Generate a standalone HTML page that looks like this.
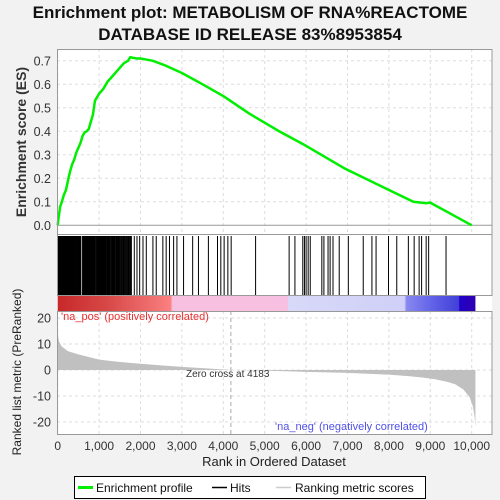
<!DOCTYPE html>
<html><head><meta charset="utf-8"><style>
body{margin:0;background:#f2f2f2;}
svg{display:block;font-family:"Liberation Sans",sans-serif;}
</style></head><body>
<svg id="chart" width="500" height="500" viewBox="0 0 500 500">
<text x="250" y="18" text-anchor="middle" font-size="17" font-weight="bold" fill="#111">Enrichment plot: METABOLISM OF RNA%REACTOME</text>
<text x="250" y="40" text-anchor="middle" font-size="17" font-weight="bold" fill="#111">DATABASE ID RELEASE 83%8953854</text>
<rect x="57" y="49" width="435" height="385" fill="#fff"/>
<g id="grid"></g>
<g id="metric"></g>
<g id="band"></g>
<g id="hits"></g>
<g id="es"></g>
<g id="axes"></g>
<text x="61" y="320" font-size="11" fill="#e83030">'na_pos' (positively correlated)</text>
<text x="275" y="430" font-size="11" fill="#5050e8">'na_neg' (negatively correlated)</text>
<text x="186" y="377" font-size="10" fill="#333">Zero cross at 4183</text>
<text x="0" y="0" transform="translate(26,142) rotate(-90)" text-anchor="middle" font-size="14" font-weight="bold" fill="#333">Enrichment score (ES)</text>
<text x="0" y="0" transform="translate(21,372) rotate(-90)" text-anchor="middle" font-size="12" fill="#222">Ranked list metric (PreRanked)</text>
<text x="274" y="466" text-anchor="middle" font-size="13" fill="#222">Rank in Ordered Dataset</text>
<g>
<rect x="74.5" y="476.5" width="351" height="22" fill="#fff" stroke="#000"/>
<line x1="78" y1="487.5" x2="93" y2="487.5" stroke="#00ee00" stroke-width="3"/>
<text x="96" y="492" font-size="12" fill="#111">Enrichment profile</text>
<line x1="212" y1="487.5" x2="227" y2="487.5" stroke="#000" stroke-width="1.5"/>
<text x="230" y="492" font-size="12" fill="#111">Hits</text>
<line x1="276" y1="487.5" x2="291" y2="487.5" stroke="#ccc" stroke-width="1.5"/>
<text x="295" y="492" font-size="12" fill="#111">Ranking metric scores</text>
</g>
</svg>
<script>
const NS="http://www.w3.org/2000/svg";
const esRanks=[0,20,60,100,150,200,260,300,350,400,450,500,550,600,650,700,750,800,850,900,950,1000,1100,1200,1300,1400,1500,1600,1700,1750,1900,2000,2300,2600,3000,3500,4000,4640,5370,5930,6920,7920,8590,8910,8990,9400,10000];
const esValues=[0,0.03,0.08,0.1,0.13,0.15,0.2,0.23,0.26,0.28,0.31,0.33,0.35,0.38,0.395,0.40,0.41,0.44,0.47,0.53,0.545,0.56,0.58,0.61,0.63,0.65,0.67,0.69,0.70,0.715,0.71,0.71,0.70,0.68,0.648,0.60,0.55,0.474,0.398,0.345,0.243,0.157,0.10,0.094,0.097,0.058,0.0];
const hitRanks=[5,15,25,35,45,55,65,80,90,100,110,120,130,140,150,165,175,185,200,210,220,235,245,260,270,280,290,300,310,320,330,340,350,365,380,390,400,410,420,430,440,455,470,485,500,515,530,545,560,600,610,620,630,640,650,660,675,690,700,710,720,730,745,760,775,790,805,820,835,850,865,880,895,910,930,950,965,980,995,1010,1025,1040,1055,1070,1085,1100,1115,1130,1145,1160,1180,1200,1215,1230,1245,1260,1280,1300,1315,1330,1345,1360,1380,1400,1415,1430,1445,1460,1480,1500,1520,1540,1560,1580,1600,1620,1640,1660,1680,1700,1720,1740,1760,1780,1850,1915,1980,2060,2140,2300,2380,2540,2620,2700,2800,2880,3040,3260,3400,3640,3860,3940,4020,4110,4190,4780,5590,5730,5920,5960,6000,6050,6100,6380,6430,6530,6580,6650,6800,7020,7380,7590,7690,7990,8190,8470,8610,8730,8790,8900,8960,9380];
const metricRanks=[0,30,100,250,500,1000,1500,2000,2500,3000,3500,4183,5000,5550,6000,7000,8000,8500,8800,9100,9400,9600,9800,9950,10030,10070,10090];
const metricValues=[14,11,9,7.2,6,4,3.1,2.4,1.8,1.2,0.7,0,-0.3,-0.5,-0.7,-1.1,-1.8,-2.4,-2.9,-3.5,-4.5,-5.5,-7.5,-10.5,-14,-18,-22];
const xTicks=[0,1000,2000,3000,4000,5000,6000,7000,8000,9000,10000];
const esTicks=[0,0.1,0.2,0.3,0.4,0.5,0.6,0.7];
const metricTicks=[20,10,0,-10,-20];
const N=10090, zeroCross=4183;
const X=r=>57.7+r*0.0414;
const YE=v=>225.3-v*235;
const YM=v=>370-v*2.6;
function mk(tag,attrs,parent){const e=document.createElementNS(NS,tag);for(const k in attrs)e.setAttribute(k,attrs[k]);document.getElementById(parent).appendChild(e);return e;}
for(const t of xTicks){
 const g1=mk('line',{x1:X(t),x2:X(t),y1:49,y2:234,stroke:'#ddd','stroke-dasharray':'3,3'},'grid');
 
 
 const g2=mk('line',{x1:X(t),x2:X(t),y1:311,y2:434,stroke:'#ddd','stroke-dasharray':'3,3'},'grid');
 
 
}
for(const t of esTicks){
 const g=mk('line',{x1:57,x2:492,y1:YE(t),y2:YE(t),stroke:t===0?'#999':'#ddd','stroke-dasharray':t===0?'':'3,3'},'grid');
 
 
}
for(const t of metricTicks){
 const g=mk('line',{x1:57,x2:492,y1:YM(t),y2:YM(t),stroke:'#ddd','stroke-dasharray':'3,3'},'grid');
 
 
}
const zc=mk('line',{x1:X(zeroCross),x2:X(zeroCross),y1:311,y2:434,stroke:'#aaa','stroke-dasharray':'4,3'},'grid');


let pts=metricRanks.map((r,i)=>X(r)+','+YM(metricValues[i]));
pts.push(X(N)+','+YM(0));pts.unshift(X(0)+','+YM(0));
const ma=mk('polygon',{points:pts.join(' '),fill:'#c0c0c0'},'metric');


const bandStops=[[0,'#c82828'],[0.12,'#d84848'],[0.27,'#fa8080'],[0.275,'#f8c0e0'],[0.55,'#f8c0e0'],[0.552,'#d8d8f8'],[0.83,'#d0d0f8'],[0.835,'#8888f0'],[0.9,'#6060e8'],[0.96,'#4040d8'],[0.962,'#2000c8'],[1,'#3000b0']];
const defs=mk('defs',{},'band');
const lg=document.createElementNS(NS,'linearGradient');lg.setAttribute('id','bg');defs.appendChild(lg);
for(const s of bandStops){const st=document.createElementNS(NS,'stop');st.setAttribute('offset',s[0]);st.setAttribute('stop-color',s[1]);lg.appendChild(st);}
const br=mk('rect',{x:X(0),y:295,width:X(N)-X(0),height:16,fill:'url(#bg)'},'band');


for(const r of hitRanks){
 const h=mk('line',{x1:X(r),x2:X(r),y1:236,y2:295,stroke:'#000','stroke-width':1},'hits');
 
 
}
const ep=mk('polyline',{points:esRanks.map((r,i)=>X(r)+','+YE(esValues[i])).join(' '),fill:'none',stroke:'#00ee00','stroke-width':2.5,'stroke-linejoin':'round'},'es');


for(const [y,h] of [[49,185],[234,61],[311,123]]){
 const b=mk('rect',{x:57.5,y:y+0.5,width:434.5,height:h,fill:'none',stroke:'#999'},'axes');
 
 
}
for(const t of esTicks){
 const l=mk('text',{x:51,y:YE(t)+4.5,'text-anchor':'end','font-size':12.5,fill:'#333'},'axes');l.textContent=t.toFixed(1);
 
 
}
for(const t of metricTicks){
 const l=mk('text',{x:51,y:YM(t)+4.5,'text-anchor':'end','font-size':12.5,fill:'#333'},'axes');l.textContent=t;
 
 
}
for(const t of xTicks){
 const l=mk('text',{x:X(t),y:450,'text-anchor':'middle','font-size':12,fill:'#333'},'axes');l.textContent=t.toLocaleString('en-US');
 
 
}
</script>
</body></html>
